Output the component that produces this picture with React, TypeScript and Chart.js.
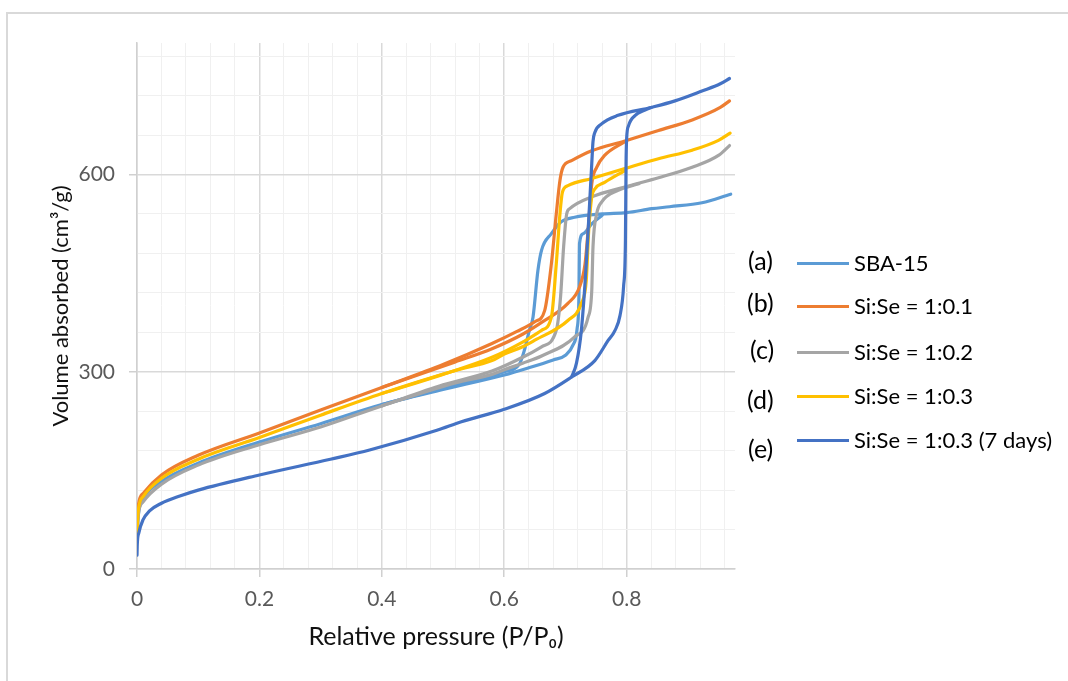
import React, { useEffect, useRef } from "react";
import { Chart, registerables } from "chart.js";

Chart.register(...registerables);

// Sample names, tags and colours
const seriesLabels = ["SBA-15", "Si:Se = 1:0.1", "Si:Se = 1:0.2", "Si:Se = 1:0.3", "Si:Se = 1:0.3 (7 days)"];
const seriesTags = ["(a)", "(b)", "(c)", "(d)", "(e)"];
const seriesColors = ["#5B9BD5", "#ED7D31", "#A5A5A5", "#FFC000", "#4472C4"];

// (a) SBA-15 — adsorption / desorption branches (P/P0, cm3/g)
const sbaAdsP = [0, 0.002, 0.01, 0.04, 0.1, 0.2, 0.3, 0.4, 0.5, 0.6, 0.64, 0.68, 0.7, 0.712, 0.719, 0.722, 0.723, 0.729, 0.743, 0.76];
const sbaAdsV = [45, 80, 106, 133, 161, 193, 221, 250, 273, 295, 306, 318, 325, 340, 365, 414, 495, 510, 525, 538];
const sbaDesP = [0.4, 0.5, 0.6, 0.625, 0.633, 0.641, 0.647, 0.655, 0.661, 0.677, 0.693, 0.715, 0.76, 0.8, 0.841, 0.87, 0.923, 0.97];
const sbaDesV = [250, 275, 300, 312, 333, 363, 383, 454, 485, 510, 528, 535, 540, 542, 548, 551, 557, 570];

// (b) Si:Se = 1:0.1
const se01AdsP = [0, 0.002, 0.01, 0.04, 0.1, 0.2, 0.3, 0.4, 0.52, 0.58, 0.63, 0.661, 0.704, 0.723, 0.732, 0.737, 0.743, 0.751, 0.764, 0.797];
const se01AdsV = [58, 95, 115, 143, 173, 207, 242, 276, 315, 335, 357, 375, 404, 429, 464, 515, 586, 611, 629, 650];
const se01DesP = [0.4, 0.5, 0.58, 0.62, 0.65, 0.666, 0.677, 0.685, 0.691, 0.696, 0.71, 0.743, 0.797, 0.852, 0.907, 0.953, 0.968];
const se01DesV = [276, 311, 343, 361, 376, 393, 464, 540, 591, 611, 621, 636, 651, 667, 683, 702, 712];

// (c) Si:Se = 1:0.2
const se02AdsP = [0, 0.002, 0.01, 0.04, 0.1, 0.2, 0.3, 0.4, 0.52, 0.58, 0.6, 0.63, 0.661, 0.715, 0.737, 0.743, 0.745, 0.751, 0.759, 0.786, 0.82];
const se02AdsV = [50, 82, 102, 129, 158, 189, 216, 248, 283, 296, 303, 313, 324, 353, 383, 424, 490, 540, 558, 576, 586];
const se02DesP = [0.4, 0.5, 0.58, 0.63, 0.661, 0.685, 0.692, 0.697, 0.702, 0.707, 0.743, 0.797, 0.852, 0.907, 0.95, 0.968];
const se02DesV = [248, 280, 301, 322, 338, 363, 414, 490, 540, 548, 566, 581, 595, 611, 629, 644];

// (d) Si:Se = 1:0.3
const se03AdsP = [0, 0.002, 0.01, 0.04, 0.1, 0.2, 0.3, 0.4, 0.52, 0.58, 0.6, 0.63, 0.65, 0.704, 0.726, 0.734, 0.738, 0.743, 0.748, 0.764, 0.797];
const se03AdsV = [52, 88, 110, 138, 167, 200, 234, 267, 302, 317, 327, 338, 348, 378, 404, 439, 515, 566, 578, 588, 606];
const se03DesP = [0.4, 0.5, 0.58, 0.63, 0.661, 0.677, 0.685, 0.691, 0.695, 0.704, 0.743, 0.797, 0.852, 0.907, 0.95, 0.969];
const se03DesV = [267, 296, 322, 345, 363, 383, 464, 540, 573, 583, 594, 609, 624, 637, 652, 663];

// (e) Si:Se = 1:0.3 aged 7 days
const se03dAdsP = [0, 0.0005, 0.003, 0.01, 0.02, 0.04, 0.07, 0.1, 0.2, 0.316, 0.38, 0.49, 0.53, 0.6, 0.666, 0.71, 0.748, 0.77, 0.781, 0.789, 0.795, 0.798, 0.799, 0.8, 0.803, 0.814, 0.83, 0.84];
const se03dAdsV = [21, 38, 55, 75, 88, 100, 111, 120, 143, 167, 181, 211, 224, 243, 267, 292, 317, 348, 363, 385, 430, 500, 617, 655, 674, 690, 698, 702];
const se03dDesP = [0.71, 0.718, 0.726, 0.734, 0.743, 0.745, 0.748, 0.759, 0.786, 0.84, 0.879, 0.923, 0.953, 0.968];
const se03dDesV = [292, 313, 363, 464, 617, 650, 664, 677, 690, 702, 712, 727, 738, 746];

const branches = [
  [sbaAdsP, sbaAdsV, sbaDesP, sbaDesV],
  [se01AdsP, se01AdsV, se01DesP, se01DesV],
  [se02AdsP, se02AdsV, se02DesP, se02DesV],
  [se03AdsP, se03AdsV, se03DesP, se03DesV],
  [se03dAdsP, se03dAdsV, se03dDesP, se03dDesV],
];

// Axis settings
const xMin = 0;
const xMax = 0.977;
const xMinorStep = 0.04;
const xMajorStep = 0.2;
const yMin = 0;
const yMax = 800;
const yMinorStep = 60;
const yMajorStep = 300;

const FONT = "Lato, 'Noto Sans', 'DejaVu Sans', sans-serif";

const isMultiple = (v: number, step: number) => Math.abs(v / step - Math.round(v / step)) < 1e-6;

const toPoints = (xs: number[], ys: number[]) => xs.map((x, i) => ({ x, y: ys[i] }));

export default function App() {
  const canvasRef = useRef<HTMLCanvasElement | null>(null);

  useEffect(() => {
    const canvas = canvasRef.current;
    if (!canvas) return;

    const datasets: any[] = [];
    branches.forEach((b, i) => {
      const [aP, aV, dP, dV] = b;
      const common = {
        borderColor: seriesColors[i],
        backgroundColor: seriesColors[i],
        borderWidth: 3.2,
        pointRadius: 0,
        pointHoverRadius: 0,
        showLine: true,
        fill: false,
        cubicInterpolationMode: "monotone",
        borderCapStyle: "round",
        borderJoinStyle: "round",
        order: seriesLabels.length - 1 - i,
      };
      datasets.push({ label: seriesLabels[i] + " ads", data: toPoints(aP, aV), ...common });
      datasets.push({ label: seriesLabels[i] + " des", data: toPoints(dP, dV), ...common });
    });

    const gridColor = (step: number) => (ctx: any) =>
      ctx.tick && isMultiple(ctx.tick.value, step) ? "#d9d9d9" : "#f0f0f0";
    const gridWidth = (step: number) => (ctx: any) =>
      ctx.tick && isMultiple(ctx.tick.value, step) ? 1.5 : 1;
    const tickColor = (step: number) => (ctx: any) =>
      ctx.tick && isMultiple(ctx.tick.value, step) ? "#d0d0d0" : "rgba(0,0,0,0)";

    const chart = new Chart(canvas, {
      type: "scatter",
      data: { datasets },
      options: {
        animation: false,
        responsive: false,
        maintainAspectRatio: false,
        layout: { padding: { left: 0, top: 43, right: 333, bottom: 0 } },
        plugins: {
          legend: { display: false },
          tooltip: { enabled: false },
        },
        scales: {
          x: {
            type: "linear",
            min: xMin,
            max: xMax,
            afterFit: (scale: any) => {
              scale.height = 112;
            },
            border: { color: "#d0d0d0", width: 1.5 },
            grid: {
              color: gridColor(xMajorStep),
              lineWidth: gridWidth(xMajorStep),
              tickColor: tickColor(xMajorStep),
              tickLength: 8,
              tickWidth: 1.5,
            },
            ticks: {
              stepSize: xMinorStep,
              includeBounds: false,
              autoSkip: false,
              maxRotation: 0,
              padding: 10,
              color: "#595959",
              font: { family: FONT, size: 21 },
              callback: (v: any) => (isMultiple(Number(v), xMajorStep) ? String(Number(Number(v).toFixed(1))) : ""),
            },
            title: {
              display: true,
              text: "Relative pressure (P/P\u2080)",
              color: "#111111",
              font: { family: FONT, size: 25 },
              padding: { top: 0, bottom: 29 },
            },
          },
          y: {
            type: "linear",
            min: yMin,
            max: yMax,
            afterFit: (scale: any) => {
              scale.width = 137;
            },
            border: { color: "#d0d0d0", width: 1.5 },
            grid: {
              color: gridColor(yMajorStep),
              lineWidth: gridWidth(yMajorStep),
              tickColor: tickColor(yMajorStep),
              tickLength: 8,
              tickWidth: 1.5,
            },
            ticks: {
              stepSize: yMinorStep,
              includeBounds: false,
              autoSkip: false,
              padding: 14,
              color: "#595959",
              font: { family: FONT, size: 21 },
              callback: (v: any) => (isMultiple(Number(v), yMajorStep) ? String(v) : ""),
            },
            title: {
              display: true,
              text: "Volume absorbed (cm\u00b3/g)",
              color: "#111111",
              font: { family: FONT, size: 22 },
              padding: { top: 48, bottom: 0 },
            },
          },
        },
      },
    });

    return () => chart.destroy();
  }, []);

  // Legend rows: tag position, swatch/label centre line
  const legendRows = [
    { tagTop: 260, tagLeft: 748, rowY: 263 },
    { tagTop: 302, tagLeft: 747, rowY: 306 },
    { tagTop: 349, tagLeft: 750, rowY: 352 },
    { tagTop: 399, tagLeft: 747, rowY: 396 },
    { tagTop: 448, tagLeft: 748, rowY: 440 },
  ];

  return (
    <div
      style={{
        position: "fixed",
        left: 0,
        top: 0,
        width: 1068,
        height: 681,
        overflow: "hidden",
        background: "#ffffff",
        fontFamily: FONT,
      }}
    >
      <div
        style={{
          position: "absolute",
          left: 6,
          top: 12,
          width: 1100,
          height: 700,
          border: "2px solid #d9d9d9",
          boxSizing: "border-box",
        }}
      />
      <canvas
        ref={canvasRef}
        width={1068}
        height={681}
        style={{ position: "absolute", left: 0, top: 0, width: 1068, height: 681 }}
      />
      {legendRows.map((r, i) => (
        <React.Fragment key={i}>
          <div
            style={{
              position: "absolute",
              left: r.tagLeft,
              top: r.tagTop,
              transform: "translateY(-50%)",
              fontSize: 25,
              lineHeight: 1,
              color: "#000",
              whiteSpace: "nowrap",
            }}
          >
            {seriesTags[i]}
          </div>
          <div
            style={{
              position: "absolute",
              left: 797,
              top: r.rowY - 1.5,
              width: 52,
              height: 3,
              background: seriesColors[i],
            }}
          />
          <div
            style={{
              position: "absolute",
              left: 854,
              top: r.rowY,
              transform: "translateY(-50%)",
              fontSize: 22,
              lineHeight: 1,
              color: "#000",
              whiteSpace: "nowrap",
            }}
          >
            {seriesLabels[i]}
          </div>
        </React.Fragment>
      ))}
    </div>
  );
}
